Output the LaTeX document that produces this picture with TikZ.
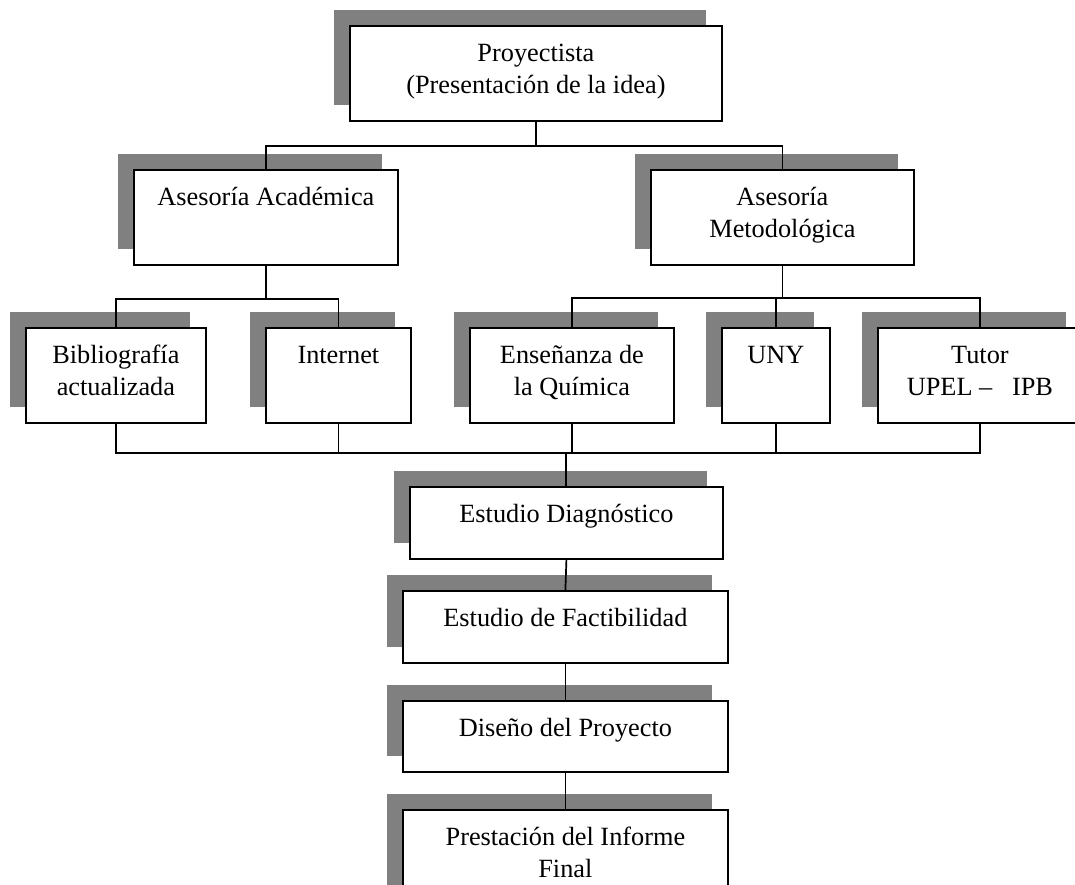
\documentclass[tikz,border=0pt]{standalone}
\usepackage{fontspec}
\setmainfont{Liberation Serif}
\usetikzlibrary{shadows}
\definecolor{shadegray}{HTML}{808080}
\newcommand{\lines}[1]{\begin{tabular}[t]{@{}c@{}}#1\end{tabular}}
\begin{document}
\begin{tikzpicture}[x=1pt,y=-1pt,
  cbox/.style={draw, fill=white, line width=1.8pt, inner sep=0pt, anchor=north west,
    text height=36pt, font=\fontsize{26.3}{32}\selectfont,
    drop shadow={shadow xshift=-16pt, shadow yshift=16pt, opacity=1, fill=shadegray}},
  link/.style={line width=1.7pt}]
\useasboundingbox (0,0) rectangle (1075,884);
\clip (0,0) rectangle (1075,884);

% boxes
\node[cbox, minimum width=372pt, text depth=59pt] (top) at (349,25)
  {\lines{Proyectista\\(Presentación de la idea)}};
\node[cbox, minimum width=264pt, text depth=59pt] (aa) at (133,169)
  {\lines{Asesoría Académica}};
\node[cbox, minimum width=263pt, text depth=59pt] (am) at (650,169)
  {\lines{Asesoría\\Metodológica}};
\node[cbox, minimum width=180pt, text depth=59pt] (bib) at (25,327)
  {\lines{Bibliografía\\actualizada}};
\node[cbox, minimum width=145pt, text depth=59pt] (int) at (265,327)
  {\lines{Internet}};
\node[cbox, minimum width=204pt, text depth=59pt] (ens) at (469,327)
  {\lines{Enseñanza de\\la Química}};
\node[cbox, minimum width=108pt, text depth=59pt] (uny) at (721,327)
  {\lines{UNY}};
\node[cbox, minimum width=204pt, text depth=59pt] (tut) at (877,327)
  {\lines{Tutor\\UPEL –\ \ \ IPB}};
\node[cbox, minimum width=313pt, text depth=36pt] (diag) at (409,486)
  {\lines{Estudio Diagnóstico}};
\node[cbox, minimum width=325pt, text depth=36pt] (fact) at (402,590)
  {\lines{Estudio de Factibilidad}};
\node[cbox, minimum width=325pt, text depth=35pt] (dis) at (402,700)
  {\lines{Diseño del Proyecto}};
\node[cbox, minimum width=325pt, text depth=64pt] (pre) at (402,809)
  {\lines{Prestación del Informe\\Final}};

% tree connectors
\draw[link] (top.south) -- ++(0,24) -| (aa.north);
\draw[link] (top.south) -- ++(0,24) -| (am.north);
\draw[link] (aa.south) -- ++(0,33) -| (bib.north);
\draw[link] (aa.south) -- ++(0,33) -| (int.north);
\draw[link] (am.south) -- ++(0,32) -| (ens.north);
\draw[link] (am.south) -- ++(0,32) -| (uny.north);
\draw[link] (am.south) -- ++(0,32) -| (tut.north);

% collecting bus
\coordinate (bus) at (566,453);
\draw[link] (bib.south) -- (bib.south |- bus) -- (tut.south |- bus) -- (tut.south);
\draw[link] (int.south) -- (int.south |- bus);
\draw[link] (ens.south) -- (ens.south |- bus);
\draw[link] (uny.south) -- (uny.south |- bus);
\draw[line width=2.6pt] (bus) -- (bus |- diag.north);

% sequence
\draw[link] (diag.south) -- (fact.north);
\draw[link] (fact.south) -- (dis.north);
\draw[link] (dis.south) -- (pre.north);
\end{tikzpicture}
\end{document}
